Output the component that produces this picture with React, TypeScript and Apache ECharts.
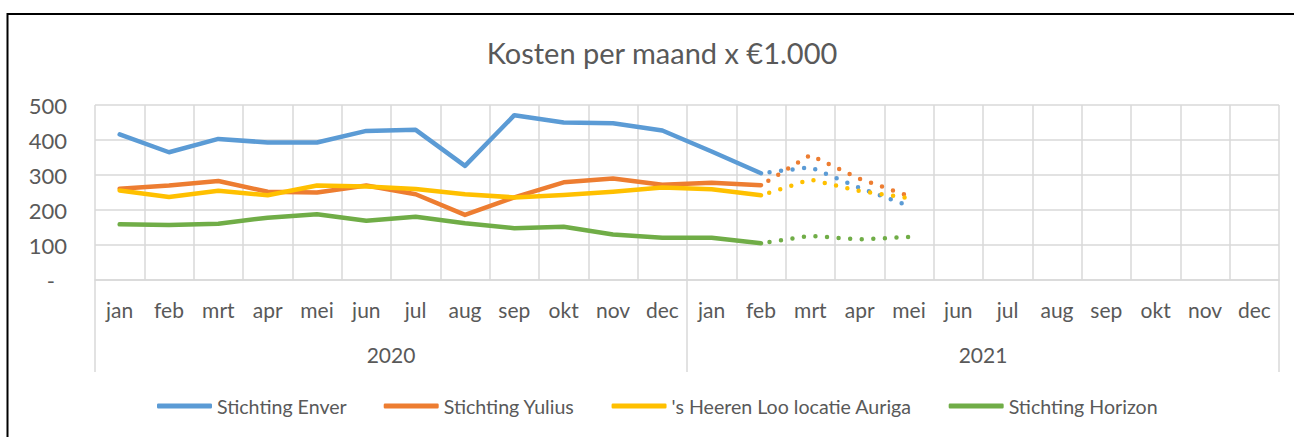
import React, { useEffect, useRef } from "react";
import * as echarts from "echarts";

const months = ["jan", "feb", "mrt", "apr", "mei", "jun", "jul", "aug", "sep", "okt", "nov", "dec"];
const categories = [...months, ...months];
const years = ["2020", "2021"];
const yTicks = [0, 100, 200, 300, 400, 500];

const seriesNames = ["Stichting Enver", "Stichting Yulius", "'s Heeren Loo locatie Auriga", "Stichting Horizon"];
const colors = ["#5B9BD5", "#ED7D31", "#FFC000", "#70AD47"];

// actuals jan 2020 – feb 2021
const enver = [416, 365, 403, 393, 393, 426, 429, 326, 471, 450, 448, 427, 367, 305];
const yulius = [261, 270, 283, 252, 250, 270, 245, 186, 236, 279, 290, 272, 278, 271];
const auriga = [256, 237, 255, 242, 270, 267, 260, 245, 236, 243, 252, 264, 259, 242];
const horizon = [159, 157, 161, 178, 188, 169, 181, 162, 148, 152, 130, 121, 121, 105];

// forecast feb 2021 – mei 2021 (dotted)
const forecastStart = 13;
const enverForecast = [305, 322, 263, 212];
const yuliusForecast = [271, 357, 289, 240];
const aurigaForecast = [242, 287, 254, 234];
const horizonForecast = [105, 126, 116, 123];

const actuals = [enver, yulius, auriga, horizon];
const forecasts = [enverForecast, yuliusForecast, aurigaForecast, horizonForecast];

const FONT = "Lato";
const TEXT = "#595959";
const GRID = "#d9d9d9";

function pad(arr: number[], start: number): (number | null)[] {
  const out: (number | null)[] = [];
  for (let i = 0; i < categories.length; i++) {
    const j = i - start;
    out.push(j >= 0 && j < arr.length ? arr[j] : null);
  }
  return out;
}

export default function App() {
  const ref = useRef<HTMLDivElement>(null);
  useEffect(() => {
    if (!ref.current) return;
    const chart = echarts.init(ref.current, undefined, { renderer: "svg" });
    const series: any[] = [];
    actuals.forEach((a, i) => {
      series.push({
        name: seriesNames[i],
        type: "line",
        data: pad(a, 0),
        symbol: "none",
        lineStyle: { color: colors[i], width: 4.5, cap: "round", join: "round" },
        itemStyle: { color: colors[i] },
        z: 3,
      });
    });
    forecasts.forEach((f, i) => {
      series.push({
        name: seriesNames[i] + " prognose",
        type: "line",
        data: pad(f, forecastStart),
        symbol: "none",
        lineStyle: { color: colors[i], width: 4.5, type: [0, 11.6], dashOffset: 2.6, cap: "round" },
        itemStyle: { color: colors[i] },
        z: 3,
      });
    });
    chart.setOption({
      animation: false,
      backgroundColor: "#fff",
      title: {
        text: "Kosten per maand x €1.000",
        left: 657,
        top: 33,
        textAlign: "center",
        textStyle: { fontFamily: FONT, fontSize: 29, fontWeight: "normal", color: TEXT },
      },
      graphic: [
        {
          type: "rect",
          shape: { x: 7.5, y: 14, width: 1320, height: 460 },
          style: { fill: "none", stroke: "#000", lineWidth: 2 },
          silent: true,
        },
      ],
      legend: {
        data: seriesNames,
        left: 152,
        top: 391,
        icon: "roundRect",
        itemWidth: 55,
        itemHeight: 5,
        itemGap: 37,
        textStyle: { fontFamily: FONT, fontSize: 19.6, color: TEXT },
      },
      grid: { left: 95, right: 15, top: 105, bottom: 157, containLabel: false },
      xAxis: [
        {
          type: "category",
          data: categories,
          boundaryGap: true,
          axisLine: { show: true, lineStyle: { color: GRID, width: 1.5 } },
          axisTick: { show: false },
          splitLine: { show: true, interval: 0, lineStyle: { color: GRID, width: 1.5 } },
          axisLabel: { interval: 0, margin: 19, fontFamily: FONT, fontSize: 21, color: TEXT },
        },
        {
          type: "category",
          data: years,
          position: "bottom",
          boundaryGap: true,
          axisLine: { show: false },
          axisTick: { show: true, length: 92, interval: 0, lineStyle: { color: GRID, width: 1.5 } },
          splitLine: { show: false },
          axisLabel: { interval: 0, margin: 64, fontFamily: FONT, fontSize: 21, color: TEXT },
        },
      ],
      yAxis: {
        type: "value",
        min: yTicks[0],
        max: yTicks[yTicks.length - 1],
        interval: 100,
        axisLine: { show: false },
        axisTick: { show: false },
        splitLine: { show: true, lineStyle: { color: GRID, width: 1.5 } },
        axisLabel: {
          margin: 28,
          fontFamily: FONT,
          fontSize: 22,
          color: TEXT,
          formatter: (v: number) => (v === 0 ? "{d|-}" : String(v)),
          rich: { d: { fontFamily: FONT, fontSize: 22, color: TEXT, padding: [0, 12, 0, 0] } },
        },
      },
      series,
    });
    return () => chart.dispose();
  }, []);
  return (
    <div
      ref={ref}
      style={{ position: "fixed", left: 0, top: 0, width: 1294, height: 437, background: "#fff" }}
    />
  );
}
